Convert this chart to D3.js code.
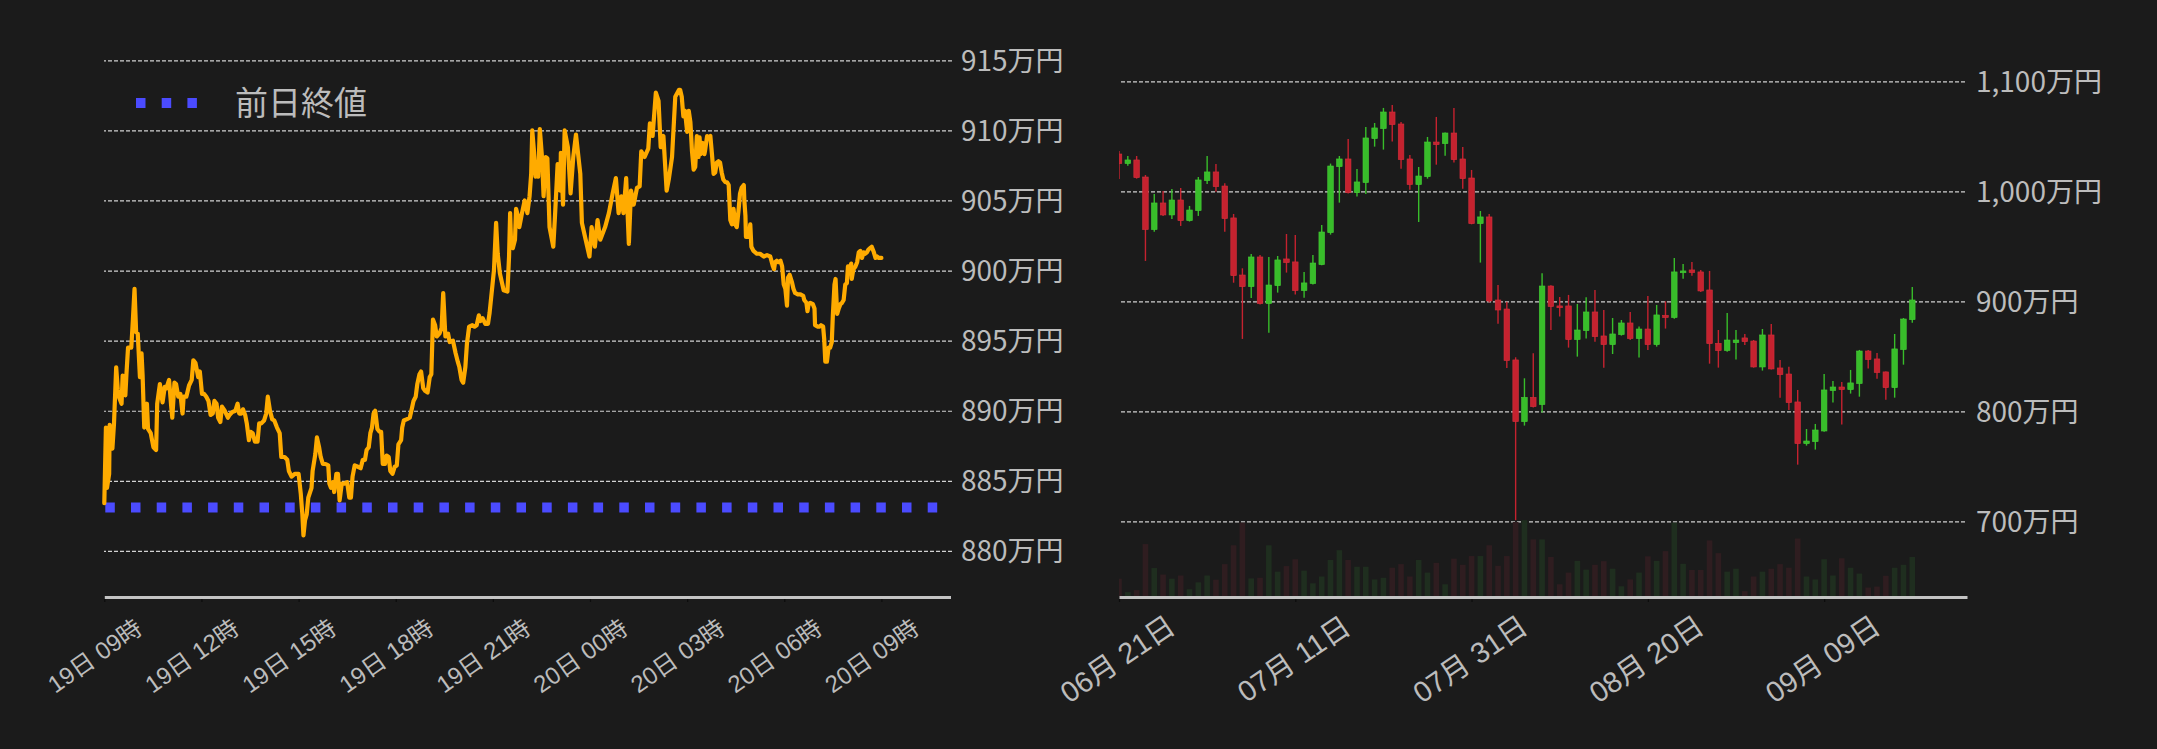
<!DOCTYPE html>
<html><head><meta charset="utf-8">
<script src="https://cdn.jsdelivr.net/npm/d3@7"></script>
<style>html,body{margin:0;padding:0;background:#1b1b1b;} svg{display:block}</style>
</head><body>
<svg id="chart" width="2157" height="749"></svg>
<script>
// ---------- Left: 24h price (万円) ----------
const intradayStart = new Date(2024, 8, 19, 9, 0);
const intradayMinutesShown = 1568;
// [minutes since 19日 09:00, price in 万円]
const intradayPrices = [
[0,883.4],[3,888.8],[5,884.5],[9,885.5],[10,889.0],[15,887.3],[18,889.1],[22,893.1],[25,891.5],[27,891.0],[32,890.5],[34,892.5],[39,891.1],[41,892.6],[44,894.5],[50,894.5],[53,896.5],[56,898.7],[59,895.6],[62,895.5],[66,892.4],[69,894.1],[71,892.5],[74,888.8],[79,890.5],[81,888.7],[86,888.4],[91,887.4],[96,887.2],[98,890.5],[103,891.9],[108,890.6],[112,891.7],[115,891.6],[120,892.2],[124,890.3],[126,889.5],[130,892.0],[133,891.9],[137,891.0],[141,891.2],[145,889.8],[147,891.0],[152,891.0],[157,891.8],[162,892.2],[165,893.6],[169,893.4],[174,892.4],[177,892.8],[181,891.2],[185,891.2],[189,891.0],[193,890.7],[197,889.7],[201,889.8],[204,890.7],[208,890.5],[211,889.5],[215,889.2],[218,890.3],[223,890.0],[229,889.5],[232,889.7],[237,889.9],[243,890.0],[247,890.5],[250,889.8],[254,889.8],[257,890.1],[261,889.7],[264,889.1],[268,887.9],[271,888.5],[275,888.4],[279,887.8],[284,887.8],[287,889.1],[291,889.1],[296,889.3],[300,889.8],[303,891.0],[307,890.0],[311,889.4],[315,889.3],[320,888.8],[325,888.4],[328,886.7],[334,886.7],[339,886.5],[342,885.7],[347,885.3],[353,885.5],[360,885.5],[364,884.1],[367,882.6],[369,881.1],[372,882.2],[375,882.6],[378,883.8],[384,884.5],[386,885.7],[391,886.9],[394,888.1],[398,887.4],[401,886.7],[405,886.2],[410,886.2],[415,886.1],[417,884.8],[420,884.5],[424,884.9],[426,884.2],[430,885.5],[433,885.5],[436,883.6],[440,884.8],[445,884.8],[450,884.9],[454,883.8],[457,883.8],[460,885.3],[464,886.1],[470,886.0],[475,885.9],[479,886.5],[483,886.5],[486,887.2],[490,887.4],[493,888.4],[496,888.8],[499,889.8],[502,890.0],[506,888.7],[510,888.5],[513,888.5],[516,886.2],[520,886.2],[523,886.8],[527,886.7],[530,885.7],[534,885.5],[538,886.0],[542,886.1],[545,887.6],[550,887.9],[552,888.8],[555,889.3],[561,889.4],[566,889.5],[569,890.0],[573,890.7],[577,891.0],[580,891.9],[584,892.6],[587,892.8],[591,891.6],[595,891.4],[599,891.3],[603,892.4],[606,892.6],[609,896.5],[613,896.1],[616,895.3],[621,895.5],[625,895.9],[628,898.4],[632,895.3],[637,895.5],[640,894.9],[646,895.0],[651,894.1],[655,893.5],[658,893.1],[662,892.2],[665,892.0],[669,893.1],[672,894.8],[676,896.0],[682,896.1],[686,896.0],[690,896.1],[694,896.8],[697,896.4],[701,896.6],[706,896.2],[711,896.2],[714,897.0],
[722,900.0],[726,903.4],[729,901.2],[733,899.8],[740,898.6],[747,898.5],[750,901.0],[752,904.1],[754,901.7],[757,901.6],[761,902.2],[763,904.4],[767,903.8],[769,903.1],[774,904.1],[779,905.0],[784,904.1],[788,905.3],[791,906.9],[793,910.0],[796,908.6],[799,906.7],[802,907.3],[804,906.7],[807,910.1],[811,908.1],[814,905.3],[818,908.1],[821,908.0],[825,903.1],[832,901.7],[835,903.8],[840,907.6],[845,905.7],[846,908.4],[850,904.7],[853,910.0],[859,908.8],[864,905.5],[869,908.1],[874,909.7],[882,906.9],[885,903.4],[892,902.2],[899,901.0],[903,903.1],[909,901.7],[914,903.6],[919,902.2],[928,903.1],[935,904.1],[942,905.5],[948,906.6],[953,904.1],[958,905.3],[962,904.1],[967,906.6],[972,901.9],[976,905.7],[981,904.7],[987,905.9],[992,906.0],[995,908.5],[1001,908.1],[1008,908.7],[1011,910.5],[1016,909.6],[1022,912.7],[1027,912.1],[1031,908.8],[1036,909.6],[1042,905.7],[1046,906.5],[1052,908.1],[1058,912.4],[1065,912.9],
[1067,912.9],[1070,912.4],[1073,911.0],[1076,911.4],[1080,909.9],[1083,911.4],[1086,910.6],[1089,908.5],[1092,907.2],[1095,907.4],[1098,909.6],[1101,908.1],[1103,909.5],[1105,908.3],[1109,909.1],[1112,908.3],[1113,908.5],[1117,909.6],[1120,909.5],[1123,909.6],[1126,908.3],[1129,906.9],[1132,907.0],[1135,907.7],[1138,907.8],[1141,907.7],[1144,907.0],[1147,906.5],[1151,906.3],[1154,906.3],[1157,906.1],[1160,903.6],[1163,903.3],[1166,904.4],[1169,903.3],[1172,903.1],[1175,904.2],[1178,905.5],[1181,905.9],[1185,906.1],[1186,905.0],[1188,903.9],[1189,902.4],[1194,902.4],[1197,903.3],[1199,901.7],[1203,901.4],[1209,901.2],[1215,901.2],[1222,901.0],[1228,901.1],[1234,901.0],[1239,900.3],[1241,900.1],[1243,900.6],[1246,900.7],[1249,900.6],[1253,900.7],[1256,900.3],[1259,899.0],[1262,898.7],[1265,897.5],[1267,899.5],[1270,899.7],[1274,899.2],[1277,898.7],[1280,898.4],[1285,898.3],[1290,898.3],[1295,898.2],[1297,897.9],[1301,897.7],[1303,897.1],[1305,897.6],[1308,897.7],[1313,897.6],[1316,897.3],[1317,896.1],[1322,896.0],[1325,896.0],[1328,896.1],[1332,896.0],[1334,895.1],[1336,893.5],[1339,893.5],[1342,894.5],[1345,894.5],[1348,894.9],[1350,896.8],[1353,899.0],[1355,899.4],[1358,896.9],[1361,897.3],[1364,897.6],[1367,897.7],[1370,897.9],[1373,899.0],[1376,899.1],[1378,900.3],[1381,900.1],[1384,900.5],[1385,899.4],[1388,900.1],[1392,900.3],[1395,900.6],[1398,901.3],[1401,901.4],[1404,900.9],[1407,901.3],[1410,901.2],[1413,901.3],[1416,901.5],[1419,901.6],[1422,901.7],[1426,901.3],[1429,900.9],[1432,901.0],[1435,900.9],[1440,900.9]
];
const previousClose = 883.1;
const legendLabel = "前日終値";
const leftYTicks = [880, 885, 890, 895, 900, 905, 910, 915];

// ---------- Right: daily candles (万円) ----------
const dailyStart = new Date(2024, 5, 21);
const dailyOpen  = [1033.9,1025.2,1028.5,1013.0,965.2,989.4,978.5,992.1,973.3,982.4,1009.7,1017.6,1004.8,975.8,923.9,913.3,940.3,897.9,914.2,938.5,935.8,909.7,916.1,933.3,962.4,1022.4,1029.4,998.8,1007.9,1047.9,1057.0,1072.1,1061.2,1029.4,1006.1,1013.3,1044.8,1043.3,1053.0,1029.4,1012.1,970.6,976.7,901.2,893.0,846.7,790.6,812.7,806.1,913.9,895.8,895.8,865.2,873.3,890.3,868.5,860.6,869.7,880.3,866.1,874.8,860.6,887.3,885.2,926.1,928.5,926.7,910.3,861.8,855.2,862.4,866.7,863.9,840.3,869.4,839.4,833.9,808.5,770.6,772.4,782.1,818.8,822.1,819.7,825.2,854.8,847.6,835.8,821.5,856.1,883.3];
const dailyHigh  = [1036.7,1032.1,1032.1,1014.8,997.6,1000.3,1002.1,1003.0,986.7,1013.0,1032.1,1024.8,1007.3,979.4,930.0,943.0,942.1,940.3,941.2,961.2,960.3,926.7,942.1,969.4,1025.2,1032.1,1047.6,1020.3,1058.5,1062.1,1075.8,1078.5,1063.0,1033.0,1022.1,1049.4,1067.6,1053.5,1075.8,1040.3,1019.4,982.1,979.4,914.8,899.7,849.1,830.0,852.7,925.5,914.5,903.9,905.8,897.6,903.6,910.3,892.1,884.8,883.0,890.3,877.0,904.8,896.7,900.0,939.4,933.9,935.8,928.5,927.6,873.9,889.4,873.9,870.3,864.8,874.8,879.4,846.7,840.6,819.4,783.9,788.5,833.9,827.6,826.7,837.6,855.8,855.8,853.0,836.2,870.3,884.8,913.0];
const dailyLow   = [1011.2,1023.3,1011.5,936.7,963.3,977.6,974.8,968.5,972.5,977.6,1006.7,999.7,963.3,916.9,865.8,903.0,897.0,871.5,907.9,926.1,906.1,903.3,915.2,932.8,960.6,989.7,998.0,995.2,997.6,1040.6,1037.9,1045.2,1020.6,1001.5,972.1,1011.5,1024.2,1032.4,1026.1,1002.4,970.0,935.2,898.8,879.7,839.4,701.0,787.0,803.5,798.8,873.9,886.1,857.9,849.7,866.1,863.3,839.7,852.1,868.8,864.8,848.8,855.8,858.8,875.2,884.2,920.6,923.3,908.5,843.3,839.7,854.2,847.0,860.3,839.7,837.0,837.9,812.4,801.2,751.5,768.8,765.2,781.5,807.9,787.9,816.1,813.3,838.8,829.7,810.6,812.4,842.4,880.6];
const dailyClose = [1025.2,1028.5,1012.4,965.2,989.4,978.5,992.1,973.3,983.0,1010.3,1017.6,1004.2,975.2,923.3,913.3,940.3,897.9,914.8,937.6,935.2,909.7,916.7,934.8,963.0,1023.0,1029.4,998.8,1008.5,1048.5,1057.6,1072.1,1060.6,1028.8,1006.1,1013.9,1044.8,1042.4,1053.0,1028.8,1011.5,970.6,976.7,900.3,892.1,846.1,790.6,812.7,804.2,913.9,895.2,894.8,865.2,873.9,890.3,867.9,860.6,870.3,880.3,866.1,874.8,860.6,887.6,885.2,926.7,927.6,926.1,909.4,861.5,855.2,864.8,864.8,863.3,840.3,869.4,838.5,833.3,807.9,770.6,773.0,783.0,819.4,822.1,819.7,825.8,854.8,847.0,835.2,821.5,856.7,883.9,901.2];
const dailyVolume = [17.7,4,6,53.3,28.7,22,17.7,21,7,14,21,16.7,32.7,52,75.3,18,18.7,52,25,30.7,37.7,26,13,20,37,47,37,30,30,17,18.7,29,32.7,20,37,24,34,12,38.3,32,41,41,52,31,41,76,77.7,58,58,40,12,24,36,27,32,35.7,28,10,17,24,40.7,36,46,75.3,33,26.7,26.7,57,44,25,28,5,20,25,28,32.7,29,59,20,17,37.7,21,38.7,29,23,8.7,9.7,20.7,29,32,40];
const rightYTicks = [700, 800, 900, 1000, 1100];
const rightXTicks = [new Date(2024,5,21), new Date(2024,6,11), new Date(2024,6,31), new Date(2024,7,20), new Date(2024,8,9)];

// ---------- drawing ----------
const svg = d3.select("#chart");
const BG = "#1b1b1b", TXT = "#bcbcbc", ORANGE = "#ffab00", BLUE = "#4b4bff";
const RED = "#c5222f", GREEN = "#38bd2a", VRED = "#2f1d20", VGREEN = "#1f2e1f";
svg.append("rect").attr("width", 2157).attr("height", 749).attr("fill", BG);

const axisY = 597;

// Left scales
const xL = d3.scaleTime().domain([intradayStart, d3.timeMinute.offset(intradayStart, intradayMinutesShown)]).range([104.3, 950.5]);
const yL = d3.scaleLinear().domain([880, 915]).range([550.9, 60.3]);

// grid
const gGridL = svg.append("g").attr("transform", "translate(952,0)")
  .call(d3.axisLeft(yL).tickValues(leftYTicks).tickSize(952 - 104).tickFormat(""));
gGridL.select(".domain").remove();
gGridL.selectAll("line").attr("stroke", "#d2d2d2").attr("stroke-width", 1.2).attr("stroke-dasharray", "4,2");

const gLabL = svg.append("g").attr("transform", "translate(952,0)")
  .call(d3.axisRight(yL).tickValues(leftYTicks).tickSize(0).tickPadding(9).tickFormat(d => d + "万円"));
gLabL.select(".domain").remove();
gLabL.selectAll("text").attr("fill", TXT).style("font-family", "'Noto Sans CJK JP', 'Noto Sans', sans-serif").style("font-size", "28px").attr("dy", "0.35em");

// previous close dotted line
svg.append("line")
  .attr("x1", xL.range()[0] + 1).attr("x2", xL.range()[1])
  .attr("y1", yL(previousClose)).attr("y2", yL(previousClose))
  .attr("stroke", BLUE).attr("stroke-width", 10).attr("stroke-dasharray", "9.5,16.2");

// price line
const line = d3.line()
  .x(d => xL(d3.timeMinute.offset(intradayStart, d[0])))
  .y(d => yL(d[1]));
svg.append("path").datum(intradayPrices)
  .attr("d", line).attr("fill", "none").attr("stroke", ORANGE)
  .attr("stroke-width", 4.2).attr("stroke-linejoin", "round").attr("stroke-linecap", "round");

// left x axis
const gXL = svg.append("g").attr("transform", `translate(0,${axisY})`)
  .call(d3.axisBottom(xL).ticks(d3.timeHour.every(3)).tickSize(5).tickSizeOuter(0).tickFormat(d3.timeFormat("%d日 %H時")));
gXL.select(".domain").attr("stroke", "#c4c4c4").attr("stroke-width", 3);
gXL.selectAll(".tick line").attr("stroke", "#0c0c0c").attr("stroke-width", 1.2).attr("y1", 2);
gXL.selectAll(".tick text").attr("fill", TXT).attr("y", 0).attr("dy", "0.35em")
  .attr("text-anchor", "middle").attr("transform", "translate(-10,59) rotate(-35)")
  .style("font-family", "'Liberation Sans', 'Noto Sans CJK JP', sans-serif").style("font-size", "24px");

// legend
svg.append("line").attr("x1", 136).attr("x2", 200).attr("y1", 103).attr("y2", 103)
  .attr("stroke", BLUE).attr("stroke-width", 10).attr("stroke-dasharray", "9.5,16.2");
svg.append("text").attr("x", 235).attr("y", 103).attr("dy", "0.35em").text(legendLabel)
  .attr("fill", TXT).style("font-family", "'Noto Sans CJK JP', sans-serif").style("font-size", "33px");

// Right scales
const xR = d3.scaleTime().domain([dailyStart, d3.timeHour.offset(dailyStart, 2309)]).range([1119, 1967]);
const yR = d3.scaleLinear().domain([700, 1100]).range([521.3, 81.3]);
const yV = d3.scaleLinear().domain([0, 80]).range([596, 518]);

const gGridR = svg.append("g").attr("transform", "translate(1965,0)")
  .call(d3.axisLeft(yR).tickValues(rightYTicks).tickSize(1965 - 1120).tickFormat(""));
gGridR.select(".domain").remove();
gGridR.selectAll("line").attr("stroke", "#cfcfcf").attr("stroke-width", 1.3).attr("stroke-dasharray", "4,2");

const gLabR = svg.append("g").attr("transform", "translate(1965,0)")
  .call(d3.axisRight(yR).tickValues(rightYTicks).tickSize(0).tickPadding(11).tickFormat(d => d3.format(",")(d) + "万円"));
gLabR.select(".domain").remove();
gLabR.selectAll("text").attr("fill", TXT).style("font-family", "'Noto Sans CJK JP', 'Noto Sans', sans-serif").style("font-size", "28px").attr("dy", "0.35em");

const candles = dailyOpen.map((o, i) => ({
  date: d3.timeDay.offset(dailyStart, i), o, h: dailyHigh[i], l: dailyLow[i], c: dailyClose[i], v: dailyVolume[i]
}));

svg.append("clipPath").attr("id", "clipR").append("rect")
  .attr("x", 1119).attr("y", 0).attr("width", 1967 - 1119).attr("height", 600);
const gC = svg.append("g").attr("clip-path", "url(#clipR)");

const bw = 5.6;
// volume
gC.selectAll("rect.vol").data(candles).join("rect").attr("class", "vol")
  .attr("x", d => xR(d.date) - bw / 2).attr("width", bw)
  .attr("y", d => yV(d.v)).attr("height", d => yV(0) - yV(d.v))
  .attr("fill", d => d.c >= d.o ? VGREEN : VRED);
// wicks
gC.selectAll("line.wick").data(candles).join("line").attr("class", "wick")
  .attr("x1", d => xR(d.date)).attr("x2", d => xR(d.date))
  .attr("y1", d => yR(d.h)).attr("y2", d => yR(d.l))
  .attr("stroke", d => d.c >= d.o ? GREEN : RED).attr("stroke-width", 1.4);
// bodies
gC.selectAll("rect.body").data(candles).join("rect").attr("class", "body")
  .attr("x", d => xR(d.date) - bw / 2).attr("width", bw)
  .attr("y", d => yR(Math.max(d.o, d.c)))
  .attr("height", d => Math.max(1.8, Math.abs(yR(d.o) - yR(d.c))))
  .attr("fill", d => d.c >= d.o ? GREEN : RED)
  .attr("stroke", d => d.c >= d.o ? "#45cc36" : "#d4303c").attr("stroke-width", 0.6);

// right x axis
const gXR = svg.append("g").attr("transform", `translate(0,${axisY})`)
  .call(d3.axisBottom(xR).tickValues(rightXTicks).tickSize(5).tickSizeOuter(0).tickFormat(d3.timeFormat("%m月 %d日")));
gXR.select(".domain").attr("stroke", "#c4c4c4").attr("stroke-width", 3);
gXR.selectAll(".tick line").attr("stroke", "#0c0c0c").attr("stroke-width", 1.2).attr("y1", 2);
gXR.selectAll(".tick text").attr("fill", TXT).attr("y", 0).attr("dy", "0.35em")
  .attr("text-anchor", "middle").attr("transform", "translate(-2,62) rotate(-34)")
  .style("font-family", "'Liberation Sans', 'Noto Sans CJK JP', sans-serif").style("font-size", "29px");
</script>
</body></html>
